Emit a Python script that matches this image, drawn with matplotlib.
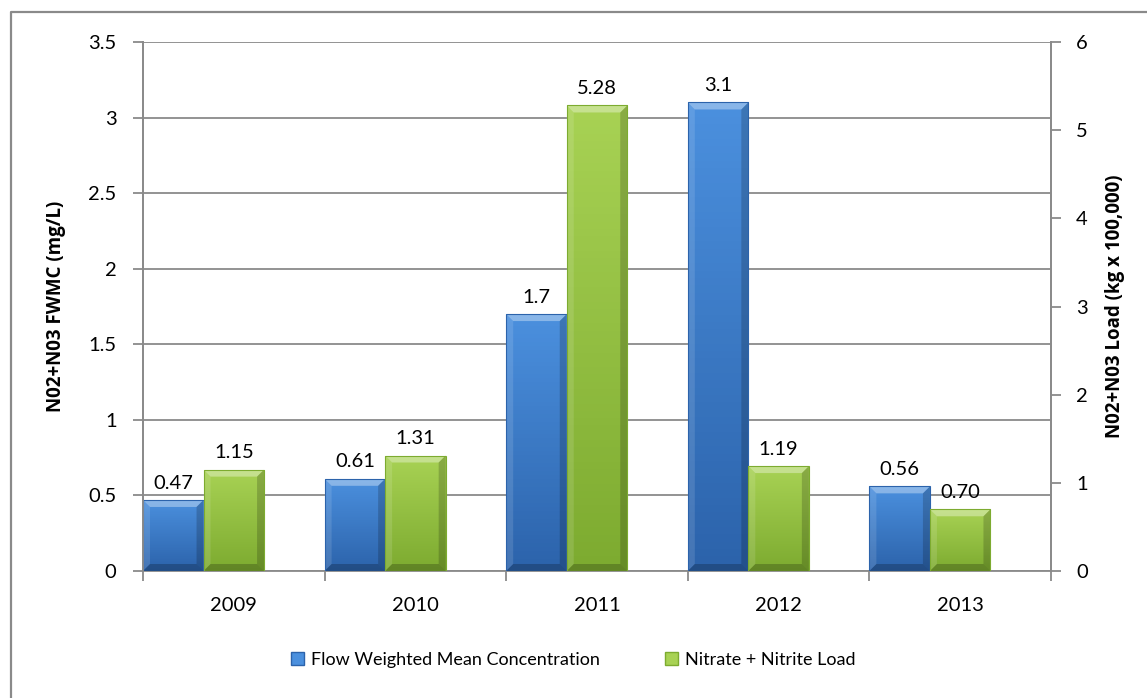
import matplotlib
matplotlib.use("Agg")
import matplotlib.pyplot as plt
import numpy as np
from matplotlib.colors import LinearSegmentedColormap
from matplotlib.lines import Line2D
from matplotlib.patches import Patch, Polygon, Rectangle

plt.rcParams["font.family"] = ["Lato", "DejaVu Sans"]

YEARS = ["2009", "2010", "2011", "2012", "2013"]
FWMC = [0.47, 0.61, 1.7, 3.1, 0.56]          # mg/L, left axis
LOAD = [1.15, 1.31, 5.28, 1.19, 0.70]        # kg x 100,000, right axis
FWMC_LABELS = ["0.47", "0.61", "1.7", "3.1", "0.56"]
LOAD_LABELS = ["1.15", "1.31", "5.28", "1.19", "0.70"]

BLUE = ("#2c63ab", "#4b90de")
GREEN = ("#7dab30", "#a8d254")
GRID = "#8a8a8a"

W, H, DPI = 1147, 698, 100
AX_RECT = [143 / W, 127 / H, 908 / W, 529 / H]
fig = plt.figure(figsize=(W / DPI, H / DPI), dpi=DPI)
ax = fig.add_axes(AX_RECT)
ax2 = ax.twinx()

x = np.arange(len(YEARS))
bw = 1 / 3
bevel_px = 7


def beveled_bars(axis, xs, vals, colors, ymax):
    cmap = LinearSegmentedColormap.from_list("g", [colors[0], colors[1]])
    bx = bevel_px / (AX_RECT[2] * W) * len(YEARS)
    by = bevel_px / (AX_RECT[3] * H) * ymax
    grad = np.linspace(0, 1, 64).reshape(-1, 1)
    for x0, v in zip(xs, vals):
        x1 = x0 + bw
        im = axis.imshow(grad, extent=[x0, x1, 0, v], origin="lower",
                         aspect="auto", cmap=cmap, zorder=3)
        im.set_clip_path(Rectangle((x0, 0), bw, v, transform=axis.transData))
        # bevel facets: light top, pale left, dark right and bottom
        axis.add_patch(Polygon([(x0, v), (x1, v), (x1 - bx, v - by), (x0 + bx, v - by)],
                               closed=True, fc="white", alpha=0.35, lw=0, zorder=4))
        axis.add_patch(Polygon([(x0, v), (x0 + bx, v - by), (x0 + bx, by), (x0, 0)],
                               closed=True, fc="white", alpha=0.12, lw=0, zorder=4))
        axis.add_patch(Polygon([(x1, v), (x1 - bx, v - by), (x1 - bx, by), (x1, 0)],
                               closed=True, fc="black", alpha=0.18, lw=0, zorder=4))
        axis.add_patch(Polygon([(x0, 0), (x0 + bx, by), (x1 - bx, by), (x1, 0)],
                               closed=True, fc="black", alpha=0.22, lw=0, zorder=4))
        axis.add_patch(Rectangle((x0, 0), bw, v, fc="none", ec=colors[0],
                                 lw=0.8, zorder=5))


# blue sits in the left third of each category, green in the middle third
beveled_bars(ax, x - 0.5, FWMC, BLUE, 3.5)
beveled_bars(ax2, x - 0.5 + bw, LOAD, GREEN, 6.0)

for xc, v, s in zip(x - 0.5 + bw / 2, FWMC, FWMC_LABELS):
    ax.annotate(s, (xc, v), xytext=(0, 6), textcoords="offset points",
                ha="center", va="bottom", fontsize=14.5, zorder=6)
for xc, v, s in zip(x, LOAD, LOAD_LABELS):
    ax2.annotate(s, (xc, v), xytext=(0, 6), textcoords="offset points",
                 ha="center", va="bottom", fontsize=14.5, zorder=6)

ax.set_xlim(-0.5, len(YEARS) - 0.5)
ax2.set_xlim(-0.5, len(YEARS) - 0.5)
ax.set_ylim(0, 3.5)
ax2.set_ylim(0, 6)
ax.set_yticks(np.arange(0, 3.51, 0.5))
ax.set_yticklabels(["0", "0.5", "1", "1.5", "2", "2.5", "3", "3.5"])
ax2.set_yticks(np.arange(0, 7, 1))
ax.yaxis.grid(True, color=GRID, lw=1.3, zorder=0)
ax.set_axisbelow(True)

ax.set_xticks(x)
ax.set_xticklabels(YEARS)
ax.set_xticks(np.arange(-0.5, len(YEARS)), minor=True)
ax.tick_params(axis="x", which="major", length=0, pad=19, labelsize=14.5)
ax.tick_params(axis="x", which="minor", length=7, width=1.3, color=GRID, direction="out")
ax.tick_params(axis="y", length=7, width=1.3, color=GRID, labelsize=14.5, pad=12)
ax2.tick_params(axis="y", length=7, width=1.3, color=GRID, labelsize=14.5, pad=11)

for a in (ax, ax2):
    a.spines["top"].set_visible(False)
    for side in ("left", "right", "bottom"):
        a.spines[side].set_color(GRID)
        a.spines[side].set_linewidth(1.3)
ax2.spines["bottom"].set_visible(False)

ymid = (AX_RECT[1] + AX_RECT[3] / 2)
fig.text(56 / W, ymid, "N02+N03 FWMC (mg/L)", rotation=90, ha="center", va="center",
         fontsize=13.5, fontweight="bold", family=["Open Sans", "DejaVu Sans"])
fig.text(1115 / W, ymid, "N02+N03 Load (kg x 100,000)", rotation=90, ha="center",
         va="center", fontsize=13.5, fontweight="bold", family=["Open Sans", "DejaVu Sans"])

handles = [Patch(fc=BLUE[1], ec=BLUE[0], label="Flow Weighted Mean Concentration"),
           Patch(fc=GREEN[1], ec=GREEN[0], label="Nitrate + Nitrite Load")]
fig.legend(handles=handles, loc="center", bbox_to_anchor=(0.5, 1 - 660 / H), ncol=2,
           frameon=False, fontsize=13, handlelength=0.7, handleheight=0.7,
           handletextpad=0.4, columnspacing=3.6)

# chart frame: only the top and left edges fall inside the image
fig.lines.append(Line2D([11 / W, 11 / W, 1], [0, 1 - 12 / H, 1 - 12 / H],
                        transform=fig.transFigure, color=GRID, lw=1.6))

fig.savefig("out.png", dpi=DPI)
